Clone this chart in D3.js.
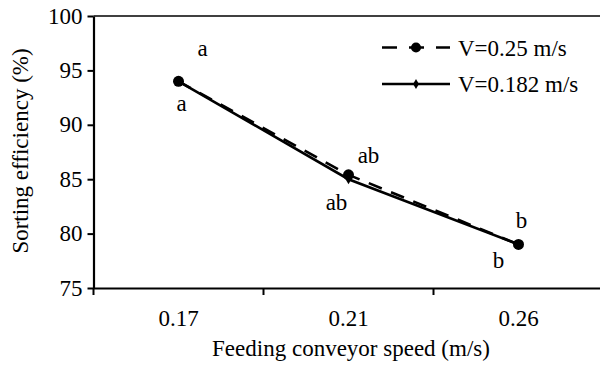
<!DOCTYPE html>
<html>
<head>
<meta charset="utf-8">
<script src="https://cdn.jsdelivr.net/npm/d3@7"></script>
</head>
<body style="margin:0">
<div id="chart"></div>
<script>
// data
const speeds = ["0.17", "0.21", "0.26"];
const effV025 = [94.0, 85.4, 79.0];   // V=0.25 m/s (dashed)
const effV0182 = [94.0, 85.0, 79.0];  // V=0.182 m/s (solid)
const yTicks = [75, 80, 85, 90, 95, 100];
const sigUpper = ["a", "ab", "b"];
const sigLower = ["a", "ab", "b"];
const seriesNames = ["V=0.25 m/s", "V=0.182 m/s"];

const W = 600, H = 366;
const plotL = 93.5, plotT = 16, plotB = 288, plotR = 603.5;

// same text styling for every label, set when the text is made
function serif(sel) {
    return sel
        .style("font-family", function () { return "'Liberation Serif'"; })
        .style("font-size", "23px")
        .attr("fill", "#000");
}

const svg = d3.select("#chart").append("svg")
    .attr("width", W)
    .attr("height", H);

const x = d3.scaleBand().domain(speeds).range([plotL, plotR]);
const y = d3.scaleLinear().domain([75, 100]).range([plotB, plotT]);
const cx = function (d) { return x(d) + x.bandwidth() / 2; };

// top border of plot area
svg.append("line")
    .attr("x1", plotL).attr("x2", plotR)
    .attr("y1", plotT).attr("y2", plotT)
    .attr("stroke", "#000").attr("stroke-width", 1.3);

// y axis: line and ticks from d3, labels drawn as plain text
const gy = svg.append("g")
    .attr("transform", "translate(" + plotL + ",0)")
    .call(d3.axisLeft(y).tickValues(yTicks).tickSize(6).tickFormat("").tickSizeOuter(0));
gy.select(".domain").attr("stroke-width", 2.2);
gy.selectAll(".tick line").attr("stroke-width", 2);
gy.selectAll(".tick text").remove();

svg.append("g").selectAll("text")
    .data(yTicks)
    .enter()
    .append("text")
    .call(serif)
    .attr("x", plotL - 11)
    .attr("y", function (d) { return y(d); })
    .attr("dy", "0.33em")
    .attr("text-anchor", "end")
    .text(function (d) { return d; });

// x axis: baseline, ticks at band edges, labels at band centres
const gx = svg.append("g")
    .attr("transform", "translate(0," + plotB + ")")
    .call(d3.axisBottom(x).tickSize(0).tickFormat("").tickSizeOuter(0));
gx.select(".domain").attr("stroke-width", 2.2);
gx.selectAll(".tick").remove();

const edges = speeds.map(function (d) { return x(d); }).concat([x.range()[1]]);
svg.append("g").selectAll("line")
    .data(edges)
    .enter()
    .append("line")
    .attr("x1", function (d) { return d; })
    .attr("x2", function (d) { return d; })
    .attr("y1", plotB)
    .attr("y2", plotB + 7)
    .attr("stroke", "#000")
    .attr("stroke-width", 2);

svg.append("g").selectAll("text")
    .data(speeds)
    .enter()
    .append("text")
    .call(serif)
    .attr("x", function (d) { return cx(d); })
    .attr("y", 326)
    .attr("text-anchor", "middle")
    .text(function (d) { return d; });

// axis titles
svg.append("text")
    .call(serif)
    .attr("x", 351).attr("y", 356)
    .attr("text-anchor", "middle")
    .text("Feeding conveyor speed (m/s)");

svg.append("text")
    .call(serif)
    .attr("transform", "translate(28,151)rotate(-90)")
    .attr("text-anchor", "middle")
    .text("Sorting efficiency  (%)");

// lines
const line = d3.line()
    .x(function (d, i) { return cx(speeds[i]); })
    .y(function (d) { return y(d); });

svg.append("path")
    .datum(effV0182)
    .attr("d", line)
    .attr("fill", "none")
    .attr("stroke", "#000")
    .attr("stroke-width", 2.6);

svg.append("g").selectAll("path")
    .data(effV0182)
    .enter()
    .append("path")
    .attr("d", d3.symbol().type(d3.symbolDiamond).size(30))
    .attr("transform", function (d, i) { return "translate(" + cx(speeds[i]) + "," + y(d) + ")"; })
    .attr("fill", "#000");

svg.append("path")
    .datum(effV025)
    .attr("d", line)
    .attr("fill", "none")
    .attr("stroke", "#000")
    .attr("stroke-width", 2.6)
    .attr("stroke-dasharray", "14,10");

svg.append("g").selectAll("path")
    .data(effV025)
    .enter()
    .append("path")
    .attr("d", d3.symbol().type(d3.symbolCircle).size(95))
    .attr("transform", function (d, i) { return "translate(" + cx(speeds[i]) + "," + y(d) + ")"; })
    .attr("fill", "#000");

// significance letters, offsets from the marker
const upperOff = [[24, -25], [20, -12], [3, -16]];
const lowerOff = [[3, 30], [-12, 35], [-20, 24]];

svg.append("g").selectAll("text")
    .data(sigUpper)
    .enter()
    .append("text")
    .call(serif)
    .attr("x", function (d, i) { return cx(speeds[i]) + upperOff[i][0]; })
    .attr("y", function (d, i) { return y(effV025[i]) + upperOff[i][1]; })
    .attr("text-anchor", "middle")
    .text(function (d) { return d; });

svg.append("g").selectAll("text")
    .data(sigLower)
    .enter()
    .append("text")
    .call(serif)
    .attr("x", function (d, i) { return cx(speeds[i]) + lowerOff[i][0]; })
    .attr("y", function (d, i) { return y(effV025[i]) + lowerOff[i][1]; })
    .attr("text-anchor", "middle")
    .text(function (d) { return d; });

// legend
const lg = svg.append("g").attr("transform", "translate(382,0)");
const legY = [47.5, 84];

lg.append("line")
    .attr("x1", 0).attr("x2", 68)
    .attr("y1", legY[0]).attr("y2", legY[0])
    .attr("stroke", "#000").attr("stroke-width", 2.6)
    .attr("stroke-dasharray", "15,12");
lg.append("path")
    .attr("d", d3.symbol().type(d3.symbolCircle).size(80))
    .attr("transform", "translate(34," + legY[0] + ")");

lg.append("line")
    .attr("x1", 0).attr("x2", 68)
    .attr("y1", legY[1]).attr("y2", legY[1])
    .attr("stroke", "#000").attr("stroke-width", 2.6);
lg.append("path")
    .attr("d", d3.symbol().type(d3.symbolDiamond).size(30))
    .attr("transform", "translate(34," + legY[1] + ")");

lg.selectAll("text.leg")
    .data(seriesNames)
    .enter()
    .append("text")
    .call(serif)
    .attr("class", "leg")
    .attr("x", 76)
    .attr("y", function (d, i) { return legY[i] + 8; })
    .text(function (d) { return d; });
</script>
</body>
</html>
